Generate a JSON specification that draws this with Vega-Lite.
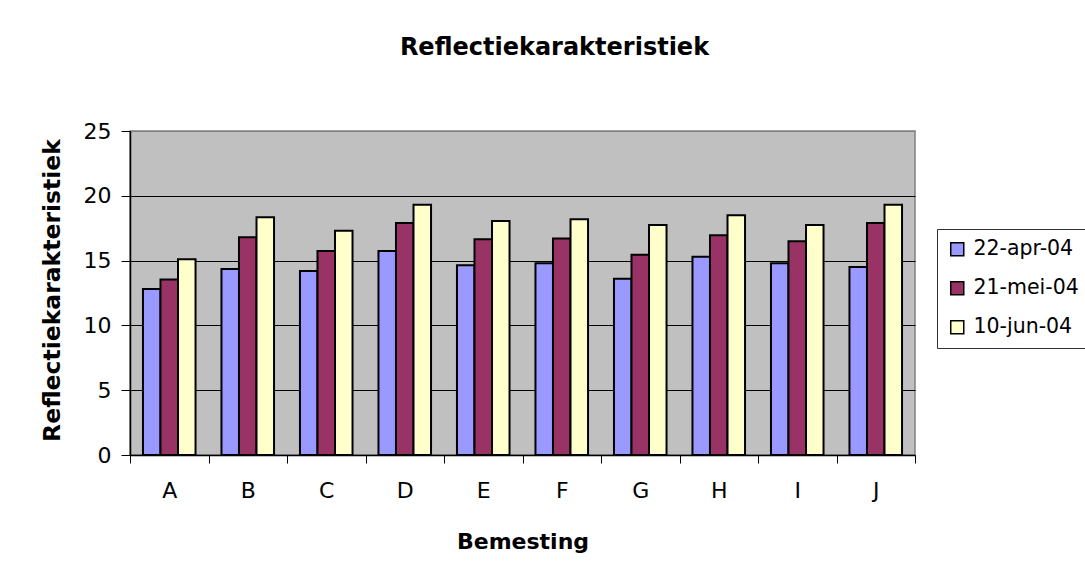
{
  "$schema": "https://vega.github.io/schema/vega-lite/v6.json",
  "width": 785,
  "height": 324,
  "autosize": {"type": "none"},
  "padding": {"left": 130, "top": 131, "right": 170, "bottom": 123},
  "background": "white",
  "title": {
    "text": "Reflectiekarakteristiek",
    "font": "DejaVu Sans",
    "fontSize": 24,
    "fontWeight": "bold",
    "color": "black",
    "anchor": "middle",
    "frame": "group",
    "dx": 32,
    "offset": 60
  },
  "config": {
    "view": {"fill": "#C0C0C0", "stroke": "#808080", "strokeWidth": 1.5},
    "axis": {"labelFont": "DejaVu Sans", "titleFont": "DejaVu Sans", "labelColor": "black", "titleColor": "black", "domainColor": "black", "tickColor": "black"},
    "legend": {"labelFont": "DejaVu Sans"}
  },
  "data": {
    "values": [
      {"Bemesting": "A", "Datum": "22-apr-04", "Waarde": 12.8},
      {"Bemesting": "A", "Datum": "21-mei-04", "Waarde": 13.55},
      {"Bemesting": "A", "Datum": "10-jun-04", "Waarde": 15.1},
      {"Bemesting": "B", "Datum": "22-apr-04", "Waarde": 14.35},
      {"Bemesting": "B", "Datum": "21-mei-04", "Waarde": 16.8},
      {"Bemesting": "B", "Datum": "10-jun-04", "Waarde": 18.35},
      {"Bemesting": "C", "Datum": "22-apr-04", "Waarde": 14.2},
      {"Bemesting": "C", "Datum": "21-mei-04", "Waarde": 15.75},
      {"Bemesting": "C", "Datum": "10-jun-04", "Waarde": 17.3},
      {"Bemesting": "D", "Datum": "22-apr-04", "Waarde": 15.75},
      {"Bemesting": "D", "Datum": "21-mei-04", "Waarde": 17.9},
      {"Bemesting": "D", "Datum": "10-jun-04", "Waarde": 19.3},
      {"Bemesting": "E", "Datum": "22-apr-04", "Waarde": 14.65},
      {"Bemesting": "E", "Datum": "21-mei-04", "Waarde": 16.65},
      {"Bemesting": "E", "Datum": "10-jun-04", "Waarde": 18.05},
      {"Bemesting": "F", "Datum": "22-apr-04", "Waarde": 14.8},
      {"Bemesting": "F", "Datum": "21-mei-04", "Waarde": 16.7},
      {"Bemesting": "F", "Datum": "10-jun-04", "Waarde": 18.2},
      {"Bemesting": "G", "Datum": "22-apr-04", "Waarde": 13.6},
      {"Bemesting": "G", "Datum": "21-mei-04", "Waarde": 15.45},
      {"Bemesting": "G", "Datum": "10-jun-04", "Waarde": 17.75},
      {"Bemesting": "H", "Datum": "22-apr-04", "Waarde": 15.3},
      {"Bemesting": "H", "Datum": "21-mei-04", "Waarde": 16.95},
      {"Bemesting": "H", "Datum": "10-jun-04", "Waarde": 18.5},
      {"Bemesting": "I", "Datum": "22-apr-04", "Waarde": 14.8},
      {"Bemesting": "I", "Datum": "21-mei-04", "Waarde": 16.5},
      {"Bemesting": "I", "Datum": "10-jun-04", "Waarde": 17.75},
      {"Bemesting": "J", "Datum": "22-apr-04", "Waarde": 14.5},
      {"Bemesting": "J", "Datum": "21-mei-04", "Waarde": 17.9},
      {"Bemesting": "J", "Datum": "10-jun-04", "Waarde": 19.3}
    ]
  },
  "mark": {"type": "bar", "stroke": "black", "strokeWidth": 2},
  "encoding": {
    "x": {
      "field": "Bemesting",
      "type": "nominal",
      "scale": {"paddingInner": 0, "paddingOuter": 0},
      "axis": {
        "title": "Bemesting",
        "titleFontSize": 22,
        "titleFontWeight": "bold",
        "titleBaseline": "alphabetic",
        "titleY": 93,
        "labelFontSize": 22,
        "labelAngle": 0,
        "labelPadding": 17,
        "tickBand": "extent",
        "tickSize": 8,
        "domainWidth": 1.5,
        "grid": false
      }
    },
    "xOffset": {
      "field": "Datum",
      "type": "nominal",
      "sort": ["22-apr-04", "21-mei-04", "10-jun-04"],
      "scale": {"paddingInner": 0, "paddingOuter": 0.74}
    },
    "y": {
      "field": "Waarde",
      "type": "quantitative",
      "scale": {"domain": [0, 25], "nice": false},
      "axis": {
        "title": "Reflectiekarakteristiek",
        "titleFontSize": 23.5,
        "titleFontWeight": "bold",
        "titleAngle": -90,
        "titleAlign": "center",
        "titleBaseline": "middle",
        "titleX": -78,
        "titleY": 159,
        "labelFontSize": 22,
        "labelPadding": 10,
        "values": [0, 5, 10, 15, 20, 25],
        "tickSize": 9,
        "domainWidth": 1.5,
        "grid": true,
        "gridColor": {"condition": {"test": "datum.value === 25", "value": "#808080"}, "value": "black"},
        "gridWidth": 1
      }
    },
    "color": {
      "field": "Datum",
      "type": "nominal",
      "sort": ["22-apr-04", "21-mei-04", "10-jun-04"],
      "scale": {"domain": ["22-apr-04", "21-mei-04", "10-jun-04"], "range": ["#9999FF", "#993366", "#FFFFCC"]},
      "legend": {
        "title": null,
        "orient": "none",
        "legendX": 807,
        "legendY": 98,
        "strokeColor": "#333333",
        "fillColor": "white",
        "padding": 10,
        "labelFontSize": 20.5,
        "labelColor": "black",
        "labelOffset": 6,
        "rowPadding": 18,
        "symbolType": "square",
        "symbolSize": 170,
        "symbolStrokeColor": "black",
        "symbolStrokeWidth": 1.5,
        "symbolOpacity": 1
      }
    }
  }
}
